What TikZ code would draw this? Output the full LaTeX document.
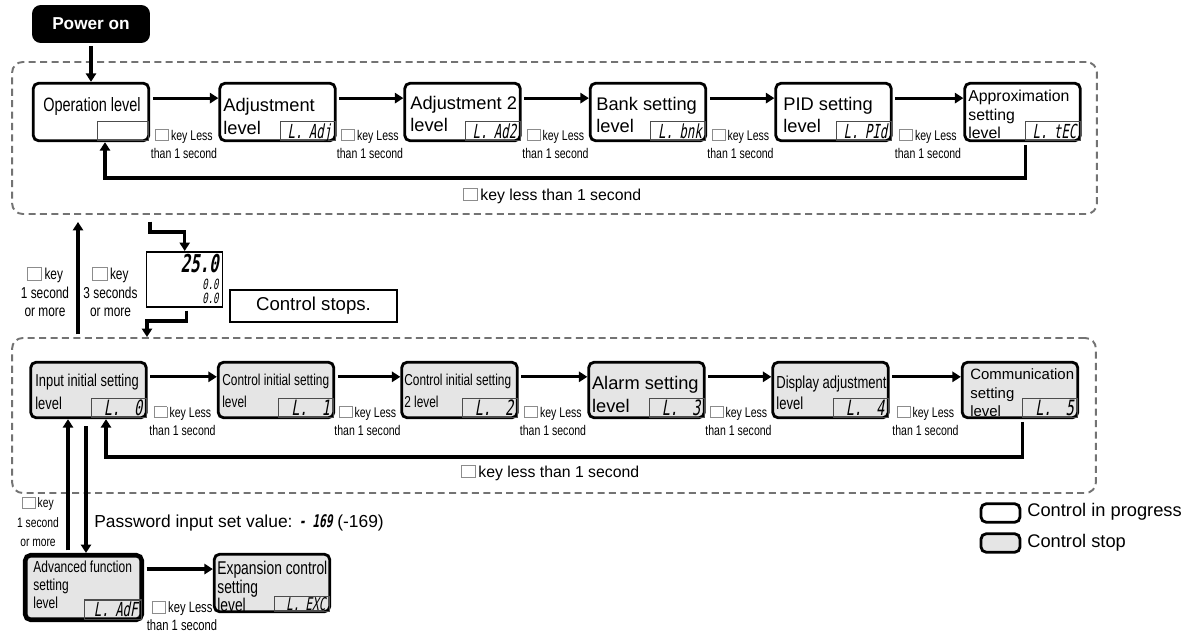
\documentclass[tikz,border=0pt]{standalone}
\usepackage{fontspec}
\setmainfont{Liberation Sans}
\newfontfamily\condfont[FakeStretch=0.75]{Liberation Sans}
\newfontfamily\segfont[FakeStretch=0.64,FakeSlant=0.18]{DejaVu Sans Mono}
\usetikzlibrary{arrows.meta,positioning}
\newcommand{\setfs}[2]{\fontsize{#1}{#2}\selectfont}
\newcommand{\keysq}{\textcolor{black!45}{\fboxsep=0pt\fboxrule=0.5pt\fbox{\rule{0pt}{0.72em}\hspace{0.85em}}}\hspace{0.15em}}
\tikzset{
	zone/.style={draw=black!55, line width=1.1pt, dash pattern=on 4pt off 2.5pt, rounded corners=6pt, inner sep=0pt},
	lvlbox/.style={draw, line width=1.6pt, rounded corners=3pt, minimum width=2.31cm, minimum height=1.15cm, inner sep=0pt},
	runbox/.style={lvlbox, fill=white},
	stopbox/.style={lvlbox, fill=black!10, minimum height=1.11cm},
	powerbox/.style={fill=black, rounded corners=5pt, minimum width=2.36cm, minimum height=0.76cm, text=white, font=\bfseries\setfs{9.8}{11}},
	segbox/.style={draw=black!70, line width=0.6pt, anchor=south east, inner xsep=2.2pt, inner ysep=0.8pt, text height=8.8pt, text depth=0.6pt, minimum height=0.39cm, text width=0.94cm, align=right, font=\segfont\setfs{11}{12}},
	lowseg/.style={segbox, font=\segfont\setfs{12}{12}},
	lvltext/.style={anchor=north west, align=left, inner sep=0pt},
	keytext/.style={align=center, inner sep=0pt, font=\condfont\setfs{8}{10.2}},
	flowarr/.style={-{Triangle[length=4.8pt,width=5.8pt]}, line width=1.8pt, shorten <=1.5pt}
}
\begin{document}
\begin{tikzpicture}[x=0.02cm, y=-0.02cm]
	\useasboundingbox (0,0) rectangle (1194,632);
	\node[zone, minimum width=21.7cm, minimum height=3.04cm] (runzone) at (554.5,138) {};
	\node[zone, minimum width=21.68cm, minimum height=3.1cm] (stopzone) at (554,415.5) {};
	\node[powerbox] (power) at (91,24) {Power on};
	\node[runbox] (oper) at (91,112) {};
	\node[runbox] (adj) at (277.5,112) {};
	\node[runbox] (adjtwo) at (462.5,112) {};
	\node[runbox] (bank) at (648,112) {};
	\node[runbox] (pid) at (833.5,112) {};
	\node[runbox] (approx) at (1022.5,112) {};
	\node[inner sep=0pt, font=\condfont\setfs{11}{13}] (opertext) at (92,107) {Operation level};
	\node[lvltext, font=\setfs{10.4}{13}] (adjtext) at (223,98) {Adjustment\\level};
	\node[lvltext, font=\setfs{10.4}{12.5}] (adjtwotext) at (410,96) {Adjustment 2\\level};
	\node[lvltext, font=\setfs{10.4}{12.5}] (banktext) at (596,97) {Bank setting\\level};
	\node[lvltext, font=\setfs{10.4}{12.5}] (pidtext) at (783,97) {PID setting\\level};
	\node[lvltext, font=\setfs{9}{10.5}] (approxtext) at (968,90) {Approximation\\setting\\level};
	\node[segbox, text width=0.87cm] (operseg) at ([shift={(-1,-1)}]oper.south east) {};
	\node[segbox] (adjseg) at ([shift={(-1,-1)}]adj.south east) {L. Adj};
	\node[segbox] (adjtwoseg) at ([shift={(-1,-1)}]adjtwo.south east) {L. Ad2};
	\node[segbox] (bankseg) at ([shift={(-1,-1)}]bank.south east) {L. bnk};
	\node[segbox] (pidseg) at ([shift={(-1,-1)}]pid.south east) {L. PId};
	\node[segbox] (approxseg) at ([shift={(-1,-1)}]approx.south east) {L. tEC};
	\draw[flowarr] (power) -- (oper);
	\draw[flowarr] ([yshift=7.9pt]oper.east) -- ([yshift=7.9pt]adj.west);
	\draw[flowarr] ([yshift=7.9pt]adj.east) -- ([yshift=7.9pt]adjtwo.west);
	\draw[flowarr] ([yshift=7.9pt]adjtwo.east) -- ([yshift=7.9pt]bank.west);
	\draw[flowarr] ([yshift=7.9pt]bank.east) -- ([yshift=7.9pt]pid.west);
	\draw[flowarr] ([yshift=7.9pt]pid.east) -- ([yshift=7.9pt]approx.west);
	\node[keytext] (kadj) at (184,144) {\keysq key Less\\than 1 second};
	\node[keytext] (kadjtwo) at (370,144) {\keysq key Less\\than 1 second};
	\node[keytext] (kbank) at (555.5,144) {\keysq key Less\\than 1 second};
	\node[keytext] (kpid) at (740.5,144) {\keysq key Less\\than 1 second};
	\node[keytext] (kapprox) at (928,144) {\keysq key Less\\than 1 second};
	\coordinate (runback) at (105,178);
	\draw[flowarr] ([xshift=1.5pt]approx.south) |- (runback) -- (runback |- oper.south);
	\node[inner sep=0pt, font=\setfs{9}{11}] (runbacktext) at (552,196) {\keysq key less than 1 second};
	\draw[flowarr, shorten >=4pt] (stopzone.north -| 78,0) -- (runzone.south -| 78,0);
	\node[keytext, font=\condfont\setfs{9}{10.5}] (upkey) at (45,292) {\keysq key\\1 second\\or more};
	\node[keytext, font=\condfont\setfs{9}{10.5}] (holdkey) at (110.5,292) {\keysq key\\3 seconds\\or more};
	\node[draw, line width=0.9pt, minimum width=1.52cm, minimum height=1.11cm, inner sep=0pt] (panel) at (184.7,279.5) {};
	\node[anchor=east, inner sep=0pt, font=\segfont\bfseries\setfs{14}{14}] (pv) at (219,264) {25.0};
	\node[anchor=east, inner sep=0pt, font=\segfont\setfs{8}{9}] (svtop) at (219,284.5) {0.0};
	\node[anchor=east, inner sep=0pt, font=\segfont\setfs{8}{9}] (svbot) at (219,298) {0.0};
	\node[draw, line width=0.7pt, minimum width=3.34cm, minimum height=0.64cm, font=\setfs{10.6}{12}] (stopnote) at (313.5,306) {Control stops.};
	\coordinate (holdstart) at (150,219);
	\draw[flowarr] (holdstart) -- ++(0,13) -| (panel.north);
	\coordinate (stopin) at (147,337);
	\draw[flowarr] ([xshift=1pt]panel.south) -- ++(0,13) -| (stopin);
	\node[stopbox] (input) at (88.5,390) {};
	\node[stopbox] (ctrl) at (276,390) {};
	\node[stopbox] (ctrltwo) at (459.5,390) {};
	\node[stopbox] (alarm) at (646.5,390) {};
	\node[stopbox] (dispadj) at (830.5,390) {};
	\node[stopbox] (comm) at (1020,390) {};
	\node[lvltext, font=\condfont\setfs{9.8}{13}] (inputtext) at (35,373.6) {Input initial setting\\level};
	\node[lvltext, font=\condfont\setfs{9}{12.5}] (ctrltext) at (222,374) {Control initial setting\\level};
	\node[lvltext, font=\condfont\setfs{9}{12.5}] (ctrltwotext) at (404,374) {Control initial setting\\2 level};
	\node[lvltext, font=\setfs{10.4}{13}] (alarmtext) at (591.7,376) {Alarm setting\\level};
	\node[lvltext, font=\condfont\setfs{9.9}{12}] (dispadjtext) at (776,375.5) {Display adjustment\\level};
	\node[lvltext, font=\setfs{8.5}{10.5}] (commtext) at (970,368.5) {Communication\\setting\\level};
	\node[lowseg] (inputseg) at ([shift={(-1,-1)}]input.south east) {L.~~0};
	\node[lowseg] (ctrlseg) at ([shift={(-1,-1)}]ctrl.south east) {L.~~1};
	\node[lowseg] (ctrltwoseg) at ([shift={(-1,-1)}]ctrltwo.south east) {L.~~2};
	\node[lowseg] (alarmseg) at ([shift={(-1,-1)}]alarm.south east) {L.~~3};
	\node[lowseg] (dispadjseg) at ([shift={(-1,-1)}]dispadj.south east) {L.~~4};
	\node[lowseg] (commseg) at ([shift={(-1,-1)}]comm.south east) {L.~~5};
	\draw[flowarr] ([yshift=7.5pt]input.east) -- ([yshift=7.5pt]ctrl.west);
	\draw[flowarr] ([yshift=7.5pt]ctrl.east) -- ([yshift=7.5pt]ctrltwo.west);
	\draw[flowarr] ([yshift=7.5pt]ctrltwo.east) -- ([yshift=7.5pt]alarm.west);
	\draw[flowarr] ([yshift=7.5pt]alarm.east) -- ([yshift=7.5pt]dispadj.west);
	\draw[flowarr] ([yshift=7.5pt]dispadj.east) -- ([yshift=7.5pt]comm.west);
	\node[keytext] (kctrl) at (182.5,421) {\keysq key Less\\than 1 second};
	\node[keytext] (kctrltwo) at (367.5,421) {\keysq key Less\\than 1 second};
	\node[keytext] (kalarm) at (553,421) {\keysq key Less\\than 1 second};
	\node[keytext] (kdispadj) at (738.5,421) {\keysq key Less\\than 1 second};
	\node[keytext] (kcomm) at (925.5,421) {\keysq key Less\\than 1 second};
	\coordinate (stopback) at (106,457);
	\draw[flowarr] ([xshift=1.5pt]comm.south) |- (stopback) -- (stopback |- input.south);
	\node[inner sep=0pt, font=\setfs{9}{11}] (stopbacktext) at (550,473) {\keysq key less than 1 second};
	\node[stopbox, line width=2.6pt, minimum width=2.33cm, minimum height=1.29cm] (adv) at (83.5,587.5) {};
	\node[stopbox, minimum width=2.31cm, minimum height=1.15cm] (exp) at (272,583) {};
	\node[lvltext, font=\condfont\setfs{9.1}{10.2}] (advtext) at (33,561) {Advanced function\\setting\\level};
	\node[lvltext, font=\condfont\setfs{10.5}{10.5}] (exptext) at (217,561) {Expansion control\\setting\\level};
	\node[segbox, text width=0.99cm] (advseg) at ([shift={(-2,-2)}]adv.south east) {L. AdF};
	\node[segbox, minimum height=0.3cm, text height=7.3pt, text depth=0.4pt, inner ysep=0.4pt, font=\segfont\setfs{10}{10}] (expseg) at ([shift={(-1,-1)}]exp.south east) {L. EXC};
	\draw[flowarr] ([yshift=10.5pt]adv.east) -- ([yshift=10.5pt]adv.east -| exp.west);
	\node[keytext, font=\condfont\setfs{8.5}{10.2}] (kexp) at (182,616) {\keysq key Less\\than 1 second};
	\draw[flowarr] (adv.north -| 68,0) -- (input.south -| 68,0);
	\draw[flowarr, shorten <=4pt] (input.south -| 86,0) -- (adv.north -| 86,0);
	\node[keytext, font=\condfont\setfs{7.8}{11}] (enterkey) at (38,522) {\keysq key\\1 second\\or more};
	\node[anchor=west, inner sep=0pt, font=\setfs{9.9}{12}] (pwd) at (94,523) {Password input set value: {\segfont\bfseries - 169} (-169)};
	\node[runbox, minimum width=0.78cm, minimum height=0.37cm] (legrun) at (1000.5,513) {};
	\node[anchor=west, inner sep=0pt, font=\setfs{10.4}{12}] (legruntext) at (1027,512) {Control in progress};
	\node[stopbox, minimum width=0.78cm, minimum height=0.37cm] (legstop) at (1000.5,543) {};
	\node[anchor=west, inner sep=0pt, font=\setfs{10.4}{12}] (legstoptext) at (1027,543) {Control stop};
\end{tikzpicture}
\end{document}
